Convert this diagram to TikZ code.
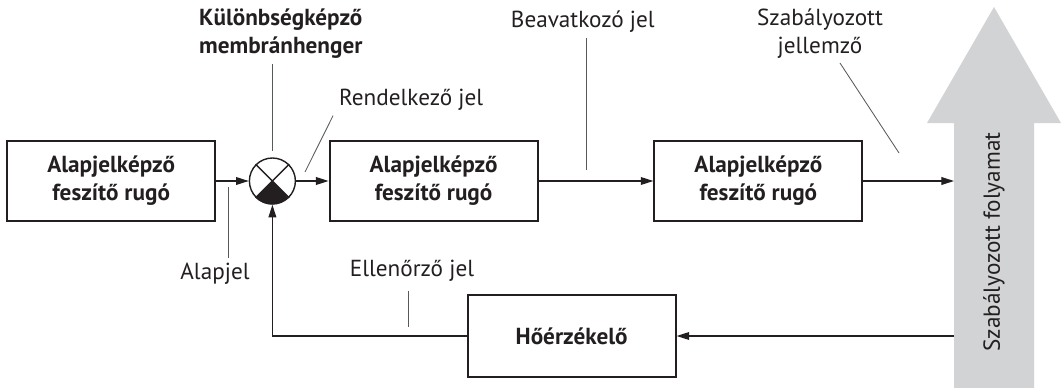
\documentclass[tikz,border=0pt]{standalone}
\usepackage{fontspec}
\setmainfont{PT Sans}
\usepackage{xcolor}
\usetikzlibrary{arrows.meta}
\definecolor{diagdark}{HTML}{231F20}
\definecolor{diaggray}{HTML}{D1D3D4}
\definecolor{diagtick}{HTML}{58595B}

\begin{document}
\begin{tikzpicture}[
    blokk/.style={draw=diagdark, line width=1.4pt, minimum width=5.2cm, minimum height=2cm,
      align=center, text=diagdark, font=\bfseries\fontsize{16.5}{20}\selectfont},
    osszeg/.style={circle, draw=diagdark, line width=1pt, minimum size=1.15cm, inner sep=0pt},
    flow/.style={draw=diagdark, line width=0.9pt, -{Triangle[length=9pt,width=5.5pt]}},
    mutato/.style={draw=diagtick, line width=0.6pt},
    lbl/.style={font=\fontsize{16.5}{20}\selectfont, text=diagdark, align=center},
    blbl/.style={lbl, font=\bfseries\fontsize{16.5}{20}\selectfont},
  ]

  \useasboundingbox (0,0) rectangle (26.55,-9.7);

  % ---------- gray process arrow
  \fill[diaggray] (23.85,-9.7) -- (23.85,-3.075) -- (23.175,-3.075) -- (24.85,-0.175)
    -- (26.525,-3.075) -- (25.85,-3.075) -- (25.85,-9.7) -- cycle;
  \node[lbl, rotate=90] (folyam) at (24.85,-6.05) {Szabályozott folyamat};
  \coordinate (be) at (23.85,-4.525);
  \coordinate (ki) at (23.85,-8.4);

  % ---------- forward path
  \node[blokk] (alapk) at (2.78,-4.525) {Alapjelképző\\feszítő rugó};
  \node[osszeg] (kul) at (6.81,-4.525) {};
  \node[blokk] (beav) at (10.84,-4.525) {Alapjelképző\\feszítő rugó};
  \node[blokk] (szabk) at (18.96,-4.525) {Alapjelképző\\feszítő rugó};

  % summing junction
  \fill[diagdark] (kul.center) -- (kul.-135) arc[start angle=-135, end angle=-45, radius=0.575cm] -- cycle;
  \draw[diagdark, line width=1pt] (kul.45) -- (kul.-135);
  \draw[diagdark, line width=1pt] (kul.135) -- (kul.-45);

  \draw[flow] (alapk) -- (kul);
  \draw[flow] (kul) -- (beav);
  \draw[flow] (beav) -- (szabk);
  \draw[flow] (szabk) -- (be);

  % ---------- feedback path
  \node[blokk, minimum height=2.05cm] (hoer) at (14.29,-8.4) {Hőérzékelő};
  \draw[flow] (ki) -- (hoer);
  \draw[flow] (hoer) -| (kul);

  % ---------- labels
  \node[blbl] (lkul) at (7.02,-0.85) {Különbségképző\\membránhenger};
  \draw[mutato] (lkul.south -| kul) -- ([yshift=0.15cm]kul.north);

  \node[lbl] (lrend) at (10.28,-2.5) {Rendelkező jel};
  \coordinate (prend) at (7.625,-4.3);
  \draw[mutato] ([xshift=-0.03cm]lrend.south west) -- (prend);

  \node[lbl] (lbeav) at (14.57,-0.55) {Beavatkozó jel};
  \coordinate (pbeav) at (14.65,-4.25);
  \draw[mutato] (lbeav.south -| pbeav) -- (pbeav);

  \node[lbl] (lszab) at (20.5,-0.83) {Szabályozott\\jellemző};
  \coordinate (pszab) at (22.475,-3.825);
  \draw[mutato] ([xshift=0.5cm]lszab.south) -- (pszab);

  \node[lbl] (lalap) at (5.375,-6.85) {Alapjel};
  \coordinate (palap) at (5.7,-4.675);
  \draw[mutato] (palap) -- (lalap.north -| palap);

  \node[lbl] (lell) at (10.3,-6.78) {Ellenőrző jel};
  \coordinate (pell) at (10.2,-8.175);
  \draw[mutato] ([yshift=-0.1cm]lell.south -| pell) -- (pell);

\end{tikzpicture}
\end{document}
